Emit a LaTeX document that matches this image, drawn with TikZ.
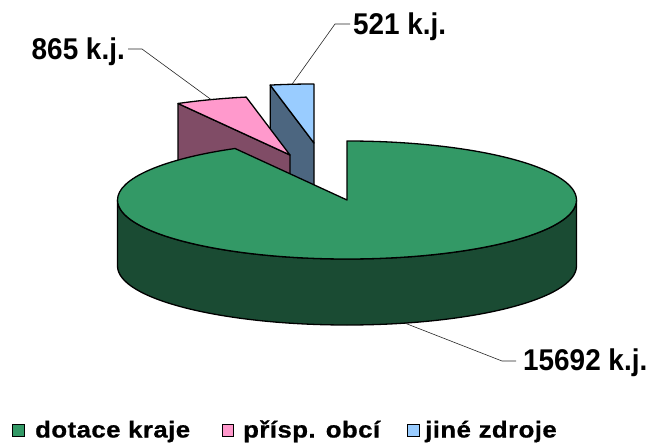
\documentclass[tikz,border=0pt]{standalone}
\usepackage{fontspec}
\setmainfont{Liberation Sans}
\newfontfamily\labelfont[FakeStretch=0.93]{Liberation Sans}
\newfontfamily\legendfont[UprightFont=* Bold,FakeStretch=1.12,FakeBold=0.8,LetterSpace=2]{Liberation Sans}
\usetikzlibrary{calc}
\definecolor{gtop}{HTML}{339966}
\definecolor{gside}{HTML}{1A4B33}
\definecolor{ptop}{HTML}{FF99CC}
\definecolor{pside}{HTML}{804C66}
\definecolor{btop}{HTML}{99CCFF}
\definecolor{bside}{HTML}{4C6680}
\begin{document}
\begin{tikzpicture}[x=1pt,y=1pt,
  pieedge/.style={draw=black,line width=1.3pt,line join=round},
  leader/.style={draw=black!85,line width=0.6pt},
  lbl/.style={font=\labelfont\bfseries\fontsize{30}{32}\selectfont,inner sep=0pt},
  legtext/.style={font=\legendfont\fontsize{23}{25}\selectfont,inner sep=0pt,anchor=base west},
  legbox/.style={draw=black,line width=1pt,minimum size=11.5pt,inner sep=0pt},
  ell/.style={x radius=229.5pt,y radius=59pt}]
\useasboundingbox (0,0) rectangle (651,-444);
% centres of the three slices
\coordinate (C) at (347,-200);
\coordinate (P) at (290,-155);
\coordinate (B) at (314,-143);
% blue slice (jine zdroje)
\path[pieedge,fill=bside] (B) -- ($(B)+(101:229.5pt and 59pt)$) -- ++(0,-66) -- ($(B)+(0,-66)$) -- cycle;
\path[pieedge,fill=btop] (B) -- ($(B)+(90:229.5pt and 59pt)$)
  arc[start angle=90,end angle=101,ell] -- cycle;
% pink slice (prisp. obci)
\path[pieedge,fill=pside] (P) -- ($(P)+(119.2:229.5pt and 59pt)$) -- ++(0,-66) -- ($(P)+(0,-66)$) -- cycle;
\path[pieedge,fill=ptop] (P) -- ($(P)+(101:229.5pt and 59pt)$)
  arc[start angle=101,end angle=119.2,ell] -- cycle;
% green slice (dotace kraje)
\path[pieedge,fill=gside] ($(C)+(180:229.5pt and 59pt)$)
  arc[start angle=180,end angle=360,ell] -- ++(0,-66)
  arc[start angle=0,end angle=-180,ell] -- cycle;
\path[pieedge,fill=gtop] (C) -- ($(C)+(90:229.5pt and 59pt)$)
  arc[start angle=90,end angle=-240.8,ell] -- cycle;
% leader anchor points
\coordinate (Pm) at ($(P)+(110.1:229.5pt and 59pt)$);
\coordinate (Bm) at ($(B)+(95.5:229.5pt and 59pt)$);
\coordinate (Gm) at ($(C)+(-75.4:229.5pt and 59pt)+(0,-66)$);
% labels
\node[lbl,anchor=base east] (l865) at (125,-60) {865 k.j.};
\node[lbl,anchor=base west] (l521) at (353,-35) {521 k.j.};
\node[lbl,anchor=base west] (l15692) at (523,-370) {15692 k.j.};
\coordinate (k865) at (142,-49);
\coordinate (k521) at (335,-24);
\coordinate (k15692) at (502,-361);
\draw[leader] (Pm) -- (k865) -- ($(l865.base east)+(3,11)$);
\draw[leader] (Bm) -- (k521) -- ($(l521.base west)+(-3,11)$);
\draw[leader] (Gm) -- (k15692) -- ($(l15692.base west)+(-7,9)$);
% legend
\node[legbox,fill=gtop] (s1) at (18.5,-430.5) {};
\node[legtext] (t1) at (35,-437.5) {dotace kraje};
\node[legbox,fill=ptop] (s2) at (228,-430.5) {};
\node[legtext] (t2) at (243,-437.5) {přísp. obcí};
\node[legbox,fill=btop] (s3) at (413.5,-430.5) {};
\node[legtext] (t3) at (425,-437.5) {jiné zdroje};
\end{tikzpicture}
\end{document}
